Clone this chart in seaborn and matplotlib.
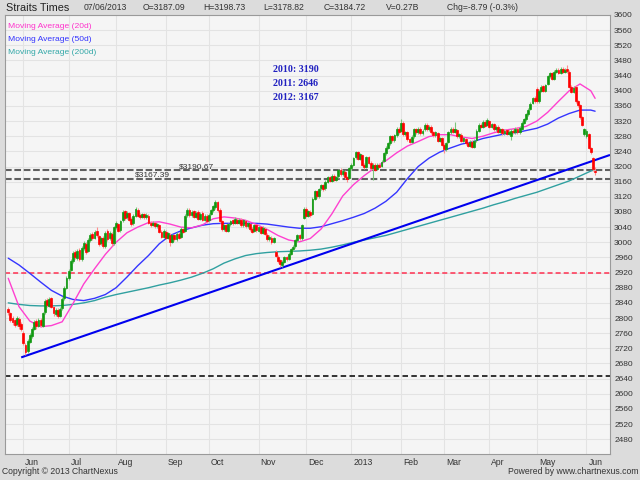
import numpy as np
import pandas as pd
import matplotlib
matplotlib.use("Agg")
import matplotlib.pyplot as plt
import matplotlib.transforms as mtransforms
import seaborn as sns

# Straits Times daily candles, 23 May 2012 - 7 Jun 2013
dates = pd.bdate_range("2012-05-23", "2013-06-07")

opens = [
    2825, 2812, 2800, 2795, 2785, 2798, 2785,
    2760, 2730, 2712, 2738, 2752, 2772, 2792, 2780, 2796, 2780,
    2815, 2848, 2833, 2852, 2828, 2810, 2822, 2806, 2826, 2852,
    2880, 2905, 2928, 2950, 2975, 2958, 2980, 2955, 2985, 2995,
    2978, 3005, 3022, 3012, 3030, 3016, 2998, 3012, 2990, 3030,
    3010, 3022, 2998, 3040, 3048, 3032, 3058, 3082, 3066, 3076,
    3062, 3050, 3070, 3085, 3072, 3068, 3074, 3066, 3070, 3052,
    3046, 3050, 3042, 3045, 3028, 3015, 3028, 3012, 3020, 3002,
    3018, 3008, 3022, 3015, 3035, 3030, 3072, 3086, 3072, 3082,
    3068, 3080, 3062, 3078, 3060, 3070, 3058, 3075, 3085, 3092,
    3105, 3085, 3055, 3035, 3045, 3030, 3048, 3058, 3052, 3060,
    3052, 3060, 3045, 3056, 3042, 3048, 3035, 3030, 3045, 3030,
    3040, 3025, 3036, 3020, 3008, 3012, 3002, 2975, 2962, 2952,
    2940, 2948, 2960, 2956, 2970, 2982, 2990, 3005, 3018, 3010,
    3065, 3088, 3070, 3080, 3075, 3115, 3135, 3122, 3142, 3150,
    3142, 3160, 3172, 3162, 3176, 3165, 3174, 3192, 3180, 3186,
    3172, 3170, 3195, 3205, 3225, 3238, 3220, 3230, 3205, 3200,
    3225, 3210, 3195, 3205, 3194, 3205, 3202, 3215, 3235, 3250,
    3262, 3280, 3270, 3282, 3300, 3295, 3315, 3285, 3290, 3272,
    3265, 3280, 3298, 3290, 3300, 3288, 3298, 3310, 3298, 3305,
    3290, 3282, 3288, 3268, 3275, 3258, 3245, 3265, 3290, 3300,
    3292, 3296, 3280, 3284, 3268, 3272, 3262, 3255, 3265, 3252,
    3270, 3295, 3310, 3305, 3318, 3310, 3320, 3305, 3312, 3298,
    3305, 3292, 3298, 3288, 3296, 3286, 3280, 3295, 3290, 3300,
    3290, 3300, 3315, 3325, 3338, 3352, 3368, 3382, 3405, 3372,
    3400, 3412, 3400, 3418, 3438, 3446, 3432, 3450, 3456, 3448,
    3458, 3450, 3458, 3450, 3410, 3398, 3410, 3372, 3362, 3330,
    3285, 3280, 3285, 3248, 3222, 3187.09,
]
closes = [
    2815, 2795, 2790, 2782, 2800, 2778, 2772,
    2735, 2710, 2740, 2755, 2770, 2790, 2778, 2795, 2782, 2812,
    2845, 2835, 2850, 2830, 2812, 2820, 2805, 2825, 2850, 2880,
    2905, 2925, 2950, 2972, 2960, 2978, 2955, 2985, 2998, 2975,
    3005, 3020, 3010, 3028, 3018, 2995, 3010, 2990, 3025, 3008,
    3025, 2998, 3040, 3050, 3030, 3055, 3080, 3065, 3078, 3060,
    3048, 3070, 3088, 3070, 3066, 3075, 3066, 3072, 3052, 3046,
    3052, 3042, 3048, 3028, 3015, 3030, 3012, 3025, 3000, 3018,
    3008, 3022, 3012, 3035, 3028, 3070, 3085, 3072, 3080, 3068,
    3078, 3062, 3075, 3060, 3070, 3055, 3072, 3085, 3095, 3105,
    3085, 3055, 3035, 3045, 3030, 3048, 3055, 3050, 3062, 3052,
    3060, 3045, 3058, 3042, 3050, 3035, 3028, 3045, 3032, 3040,
    3025, 3038, 3022, 3008, 3015, 3000, 3010, 2965, 2950, 2942,
    2948, 2960, 2955, 2970, 2982, 2988, 3005, 3018, 3010, 3045,
    3088, 3070, 3082, 3072, 3115, 3135, 3122, 3140, 3150, 3140,
    3160, 3172, 3162, 3175, 3165, 3172, 3190, 3180, 3188, 3172,
    3168, 3195, 3205, 3222, 3238, 3220, 3232, 3205, 3198, 3225,
    3210, 3195, 3205, 3192, 3205, 3200, 3212, 3235, 3250, 3262,
    3280, 3270, 3282, 3300, 3290, 3315, 3285, 3290, 3272, 3265,
    3278, 3298, 3290, 3300, 3288, 3295, 3310, 3298, 3305, 3290,
    3282, 3290, 3268, 3275, 3258, 3245, 3262, 3290, 3300, 3292,
    3298, 3280, 3285, 3268, 3275, 3262, 3255, 3265, 3252, 3268,
    3295, 3310, 3305, 3318, 3308, 3322, 3305, 3312, 3298, 3305,
    3292, 3298, 3288, 3295, 3286, 3292, 3295, 3290, 3300, 3290,
    3302, 3315, 3325, 3338, 3350, 3365, 3380, 3372, 3372, 3400,
    3410, 3400, 3415, 3438, 3446, 3432, 3450, 3455, 3448, 3458,
    3450, 3456, 3452, 3410, 3398, 3408, 3372, 3362, 3330, 3310,
    3298, 3295, 3250, 3238, 3193.51, 3184.72,
]
highs = [
    2830, 2816, 2806, 2798, 2805, 2802, 2790,
    2765, 2735, 2744, 2760, 2775, 2796, 2797, 2800, 2800, 2816,
    2850, 2853, 2855, 2856, 2832, 2826, 2826, 2830, 2855, 2885,
    2910, 2930, 2955, 2978, 2980, 2982, 2984, 2990, 3004, 3000,
    3010, 3025, 3026, 3032, 3040, 3020, 3014, 3016, 3030, 3036,
    3030, 3026, 3044, 3055, 3052, 3060, 3086, 3086, 3082, 3080,
    3066, 3074, 3092, 3090, 3076, 3078, 3078, 3076, 3074, 3056,
    3056, 3054, 3052, 3048, 3032, 3034, 3032, 3028, 3024, 3022,
    3022, 3026, 3026, 3040, 3038, 3074, 3090, 3090, 3084, 3086,
    3082, 3084, 3079, 3082, 3074, 3074, 3076, 3089, 3099, 3112,
    3109, 3090, 3059, 3049, 3049, 3052, 3059, 3062, 3066, 3064,
    3064, 3064, 3062, 3060, 3054, 3052, 3039, 3049, 3049, 3044,
    3044, 3042, 3040, 3024, 3019, 3016, 3014, 2979, 2966, 2956,
    2952, 2964, 2964, 2974, 2986, 2992, 3009, 3022, 3022, 3049,
    3092, 3092, 3086, 3084, 3119, 3139, 3139, 3144, 3155, 3154,
    3164, 3176, 3176, 3179, 3180, 3176, 3194, 3196, 3192, 3190,
    3176, 3199, 3209, 3226, 3242, 3242, 3236, 3234, 3209, 3229,
    3229, 3214, 3209, 3209, 3209, 3209, 3216, 3239, 3254, 3266,
    3284, 3284, 3286, 3304, 3304, 3325, 3319, 3294, 3294, 3276,
    3282, 3302, 3302, 3304, 3304, 3299, 3316, 3314, 3309, 3309,
    3294, 3294, 3292, 3279, 3279, 3262, 3266, 3294, 3304, 3304,
    3318, 3300, 3289, 3288, 3279, 3276, 3266, 3269, 3269, 3272,
    3299, 3314, 3314, 3322, 3322, 3328, 3324, 3316, 3316, 3309,
    3309, 3302, 3302, 3299, 3300, 3296, 3299, 3299, 3304, 3304,
    3306, 3319, 3329, 3342, 3354, 3369, 3384, 3386, 3409, 3404,
    3414, 3416, 3419, 3442, 3450, 3450, 3454, 3459, 3460, 3462,
    3462, 3460, 3468, 3454, 3414, 3412, 3414, 3376, 3366, 3334,
    3302, 3299, 3289, 3252, 3226, 3198.73,
]
lows = [
    2808, 2790, 2782, 2776, 2780, 2772, 2765,
    2728, 2702, 2708, 2733, 2748, 2768, 2772, 2776, 2776, 2776,
    2810, 2830, 2828, 2826, 2806, 2805, 2800, 2802, 2822, 2848,
    2876, 2900, 2924, 2946, 2955, 2954, 2950, 2950, 2980, 2970,
    2974, 3000, 3005, 3008, 3014, 2990, 2994, 2985, 2986, 3004,
    3005, 2990, 2994, 3035, 3026, 3028, 3054, 3060, 3062, 3056,
    3044, 3046, 3066, 3066, 3062, 3064, 3062, 3062, 3048, 3040,
    3042, 3038, 3038, 3024, 3010, 3012, 3008, 3008, 2990, 2998,
    3004, 3004, 3008, 3012, 3024, 3026, 3068, 3068, 3068, 3064,
    3064, 3058, 3058, 3056, 3056, 3050, 3054, 3071, 3081, 3088,
    3081, 3051, 3030, 3031, 3026, 3026, 3044, 3046, 3048, 3048,
    3048, 3041, 3041, 3038, 3038, 3031, 3024, 3026, 3028, 3026,
    3021, 3021, 3018, 3004, 3004, 2996, 2998, 2961, 2946, 2935,
    2934, 2944, 2951, 2952, 2966, 2978, 2986, 3001, 3006, 3006,
    3061, 3066, 3066, 3068, 3071, 3111, 3118, 3118, 3138, 3136,
    3138, 3156, 3158, 3158, 3161, 3161, 3170, 3176, 3176, 3168,
    3160, 3166, 3191, 3201, 3221, 3216, 3216, 3201, 3194, 3196,
    3206, 3191, 3165, 3188, 3190, 3196, 3198, 3211, 3231, 3246,
    3258, 3266, 3266, 3278, 3286, 3291, 3281, 3281, 3268, 3261,
    3261, 3276, 3286, 3286, 3284, 3284, 3294, 3294, 3294, 3286,
    3278, 3278, 3264, 3264, 3254, 3236, 3241, 3261, 3286, 3288,
    3288, 3276, 3276, 3264, 3264, 3258, 3251, 3251, 3248, 3248,
    3266, 3291, 3301, 3301, 3304, 3306, 3301, 3301, 3294, 3294,
    3288, 3288, 3284, 3284, 3282, 3282, 3270, 3286, 3286, 3286,
    3286, 3296, 3311, 3321, 3334, 3348, 3364, 3368, 3368, 3368,
    3396, 3396, 3396, 3414, 3434, 3428, 3428, 3446, 3444, 3444,
    3446, 3446, 3448, 3406, 3394, 3394, 3368, 3358, 3326, 3306,
    3281, 3276, 3246, 3234, 3189, 3178.82,
]

# moving averages, read every 5th session plus the last one
ma20 = [2905, 2830, 2792, 2777, 2780, 2790, 2838, 2890, 2930, 2968,
        3000, 3025, 3040, 3052, 3054, 3048, 3040, 3038, 3046, 3062,
        3067, 3064, 3058, 3047, 3034, 3018, 3006, 3001, 3010, 3035,
        3075, 3122, 3152, 3176, 3197, 3215, 3236, 3254, 3266, 3279,
        3284, 3284, 3278, 3274, 3280, 3289, 3296, 3300, 3306, 3320,
        3343, 3372, 3400, 3418, 3400, 3380]
ma50 = [2958, 2940, 2918, 2895, 2873, 2858, 2849, 2846, 2852, 2862,
        2880, 2908, 2938, 2965, 2996, 3018, 3030, 3038, 3045, 3049,
        3050, 3050, 3050, 3050, 3048, 3044, 3040, 3037, 3037, 3041,
        3049, 3057, 3066, 3076, 3090, 3108, 3132, 3168, 3200, 3222,
        3238, 3249, 3259, 3265, 3274, 3280, 3286, 3289, 3295, 3301,
        3312, 3328, 3340, 3349, 3349, 3346]
ma200 = [2840, 2836, 2833, 2832, 2832, 2833, 2836, 2840, 2846, 2855,
         2862, 2868, 2874, 2880, 2887, 2893, 2900, 2908, 2918, 2930,
         2945, 2956, 2965, 2970, 2973, 2975, 2976, 2977, 2979, 2982,
         2987, 2993, 3000, 3006, 3012, 3018, 3026, 3034, 3042, 3050,
         3058, 3066, 3074, 3082, 3090, 3099, 3107, 3116, 3124, 3132,
         3142, 3152, 3162, 3175, 3188, 3192]

# support levels and trend line anchors
support_grey = [3190.67, 3167.39]
support_red = 2920
support_black = 2646
trend_dates = ["2012-05-31", "2013-06-07"]
trend_vals = [2696, 3217]
year_notes = ["2010: 3190", "2011: 2646", "2012: 3167"]

header = ["07/06/2013", "O=3187.09", "H=3198.73", "L=3178.82",
          "C=3184.72", "V=0.27B", "Chg=-8.79 (-0.3%)"]

# ---------------------------------------------------------------
sns.set_style("white")
plt.rcParams["font.family"] = ["Liberation Sans", "DejaVu Sans"]

df = pd.DataFrame({"date": dates, "open": opens, "high": highs,
                   "low": lows, "close": closes})
df["pos"] = np.arange(len(df))
up = df["close"] >= df["open"]

n = len(df)
ma_pos = list(range(0, n - 2, 5)) + [n - 1]
ma = pd.DataFrame({"pos": ma_pos, "ma20": ma20, "ma50": ma50, "ma200": ma200})

fig = plt.figure(figsize=(6.4, 4.8), dpi=100, facecolor="#dcdcdc")
ax = fig.add_axes([5 / 640, 1 - 454 / 480, 605 / 640, 439 / 480])
ax.set_facecolor("#f5f5f5")

xmin, xmax = -1.5, 278.9
ax.set_xlim(xmin, xmax)
ax.set_ylim(2441, 3600)

# month ticks on the first session of each month
s = pd.Series(df["pos"].values, index=dates)
first = s.groupby([dates.year, dates.month]).first()
tick_pos = [p for p in first.values if dates[p].day <= 3]
tick_lab = ["2013" if dates[p].month == 1 else dates[p].strftime("%b") for p in tick_pos]

ax.set_yticks(np.arange(2480, 3601, 40))
ax.set_xticks(tick_pos)
ax.set_xticklabels(tick_lab)
ax.grid(True, color="#e3e3e3", lw=0.8)
ax.set_axisbelow(True)

ax.yaxis.tick_right()
ax.tick_params(axis="y", length=0, pad=3, labelsize=6, labelcolor="#333333")
ax.tick_params(axis="x", length=4.5, width=0.7, color="#888888", direction="out",
               pad=-1.8, labelsize=6.2, labelcolor="#333333")
offset = mtransforms.ScaledTranslation(2 / 100, 0, fig.dpi_scale_trans)
for lbl in ax.get_xticklabels():
    lbl.set_horizontalalignment("left")
    lbl.set_transform(lbl.get_transform() + offset)
for sp in ax.spines.values():
    sp.set_color("#9a9a9a")
    sp.set_linewidth(0.8)

# horizontal levels
for lvl in support_grey:
    ax.axhline(lvl, color="#606060", lw=1.5, ls=(0, (3.2, 1.3)), zorder=2)
ax.axhline(support_red, color="#ff3050", lw=1.1, ls=(0, (3.3, 2.0)), zorder=2)
ax.axhline(support_black, color="#111111", lw=1.2, ls=(0, (3.3, 2.0)), zorder=2)
trans = mtransforms.blended_transform_factory(ax.transAxes, ax.transData)
ax.text(0.316, support_grey[0], f"${support_grey[0]:.2f}", transform=trans,
        ha="center", va="bottom", fontsize=6, color="#333333")
ax.text(0.243, support_grey[1], f"${support_grey[1]:.2f}", transform=trans,
        ha="center", va="bottom", fontsize=6, color="#333333")

# moving averages
sns.lineplot(data=ma, x="pos", y="ma200", color="#30a0a0", lw=1, ax=ax, zorder=3)
sns.lineplot(data=ma, x="pos", y="ma50", color="#3535ff", lw=1, ax=ax, zorder=3)
sns.lineplot(data=ma, x="pos", y="ma20", color="#ff40d0", lw=1, ax=ax, zorder=3)

# trend line from the June low, extended to the right edge
p0, p1 = [dates.get_loc(pd.Timestamp(d)) for d in trend_dates]
slope = (trend_vals[1] - trend_vals[0]) / (p1 - p0)
ax.plot([p0, xmax], [trend_vals[0], trend_vals[0] + slope * (xmax - p0)],
        color="#0000ee", lw=1.5, zorder=3, solid_capstyle="butt")

# candles
wick_col = np.where(up, "#7cc47c", "#ff8c8c")
body_col = np.where(up, "#119911", "#ff0000")
ax.vlines(df["pos"], df["low"], df["high"], colors=wick_col, lw=0.8, zorder=4)
ax.bar(df["pos"], df["close"] - df["open"], bottom=df["open"], width=0.85,
       color=body_col, edgecolor=body_col, linewidth=0.5, zorder=5)

ax.set_xlabel("")
ax.set_ylabel("")

# legend
for k, (lab, col) in enumerate([("Moving Average (20d)", "#ff33cc"),
                                ("Moving Average (50d)", "#3333ff"),
                                ("Moving Average (200d)", "#33a8a8")]):
    fig.text(7.5 / 640, 1 - (26.5 + 12.8 * k) / 480, lab, color=col,
             fontsize=6.1, va="center", ha="left")

# yearly levels note
for k, t in enumerate(year_notes):
    fig.text(273 / 640, 1 - (70 + 14 * k) / 480, t, color="#2020c0",
             fontsize=7.2, fontweight="bold", family=["Liberation Serif", "DejaVu Serif"],
             va="center", ha="left")

# header
fig.text(6 / 640, 1 - 8 / 480, "Straits Times", fontsize=7.8, color="#222222", va="center")
for xpix, t in zip([84, 143, 203, 263, 324, 386, 447], header):
    fig.text(xpix / 640, 1 - 8 / 480, t, fontsize=6.2, color="#333333", va="center")

# footer
fig.text(2 / 640, 1 - 471 / 480, "Copyright \u00a9 2013 ChartNexus", fontsize=6.2,
         color="#333333", va="center")
fig.text(638 / 640, 1 - 471 / 480, "Powered by www.chartnexus.com", fontsize=6.2,
         color="#333333", va="center", ha="right")

fig.savefig("out.png", dpi=100, facecolor=fig.get_facecolor())
